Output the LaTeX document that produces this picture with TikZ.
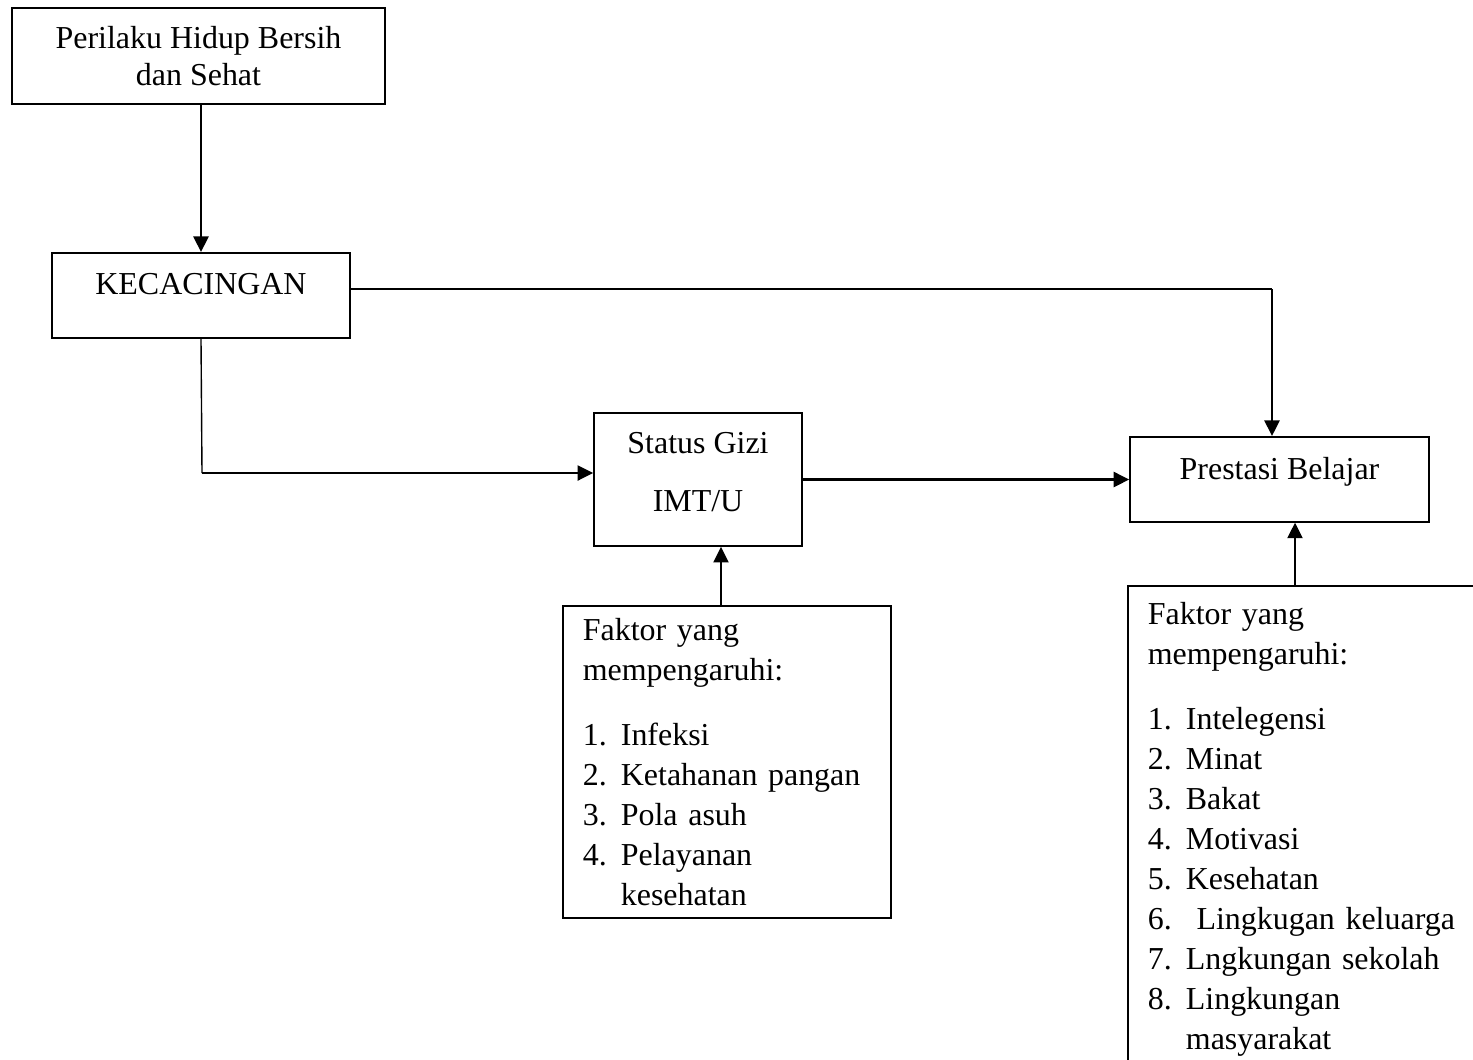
\documentclass[tikz,border=0pt]{standalone}
\usepackage{fontspec}
\setmainfont{Liberation Serif}
\usepackage{tikz}
\usetikzlibrary{arrows.meta}

\newcommand{\itm}[2]{\makebox[13.7pt][l]{#1}#2}

\begin{document}
\begin{tikzpicture}[x=0.36pt,y=-0.36pt,
		box/.style={draw,line width=0.6pt,inner sep=0pt,font=\fontsize{11.5}{14.4}\selectfont},
		arr/.style={line width=0.85pt,-{Triangle[length=5.6pt,width=5.4pt]}},
		thinline/.style={line width=0.5pt}]
	\clip (0,0) rectangle (1473,1059);
	% boxes
	\node[box,align=center,minimum width=134.3pt,minimum height=34.6pt,
		font=\fontsize{11.5}{13.5}\selectfont] (perilaku) at (198.5,56) {Perilaku Hidup Bersih\\dan Sehat};
	\node[box,anchor=north,minimum width=107.3pt,text height=15.1pt,text depth=15.5pt] (kec) at (201,252) {KECACINGAN};
	\node[box,align=center,minimum width=74.9pt,minimum height=47.9pt] (status) at (698,479.5)
		{Status Gizi\\[6.5pt]IMT/U\rule[-5.6pt]{0pt}{5.6pt}};
	\node[box,anchor=north,minimum width=107.6pt,text height=15.2pt,text depth=15.4pt] (prestasi) at (1279.5,436) {Prestasi Belajar};
	\node[box,anchor=north west,text width=103.7pt,inner xsep=7.2pt,minimum height=112.3pt,align=left] (faktor1) at (562,605)
		{Faktor yang\\mempengaruhi:\\[9pt]
		\itm{1.}{Infeksi}\\
		\itm{2.}{Ketahanan pangan}\\
		\itm{3.}{Pola asuh}\\
		\itm{4.}{Pelayanan}\\
		\itm{}{kesehatan}};
	\node[box,anchor=north west,text width=130pt,inner xsep=7.2pt,inner ysep=6.1pt,align=left] (faktor2) at (1127,585)
		{Faktor yang\\mempengaruhi:\\[9pt]
		\itm{1.}{Intelegensi}\\
		\itm{2.}{Minat}\\
		\itm{3.}{Bakat}\\
		\itm{4.}{Motivasi}\\
		\itm{5.}{Kesehatan}\\
		\itm{6.}{\ Lingkugan keluarga}\\
		\itm{7.}{Lngkungan sekolah}\\
		\itm{8.}{Lingkungan}\\
		\itm{}{masyarakat}\rule[-10pt]{0pt}{10pt}};
	% connectors
	\draw[arr] (kec.north |- perilaku.south) -- (kec.north);
	\coordinate (kp) at (1272,289);
	\draw[thinline] (kec.east |- kp) -- (kp);
	\draw[arr] (kp) -- (kp |- prestasi.north);
	\coordinate (ks) at (202,473);
	\draw[thinline] (kec.south) -- (ks);
	\draw[arr] (ks) -- (ks -| status.west);
	\draw[arr] (status.east) -- (status.east -| prestasi.west);
	\coordinate (fs) at (721,0);
	\draw[arr] (fs |- faktor1.north) -- (fs |- status.south);
	\coordinate (fp) at (1295,0);
	\draw[arr] (fp |- faktor2.north) -- (fp |- prestasi.south);
\end{tikzpicture}
\end{document}
